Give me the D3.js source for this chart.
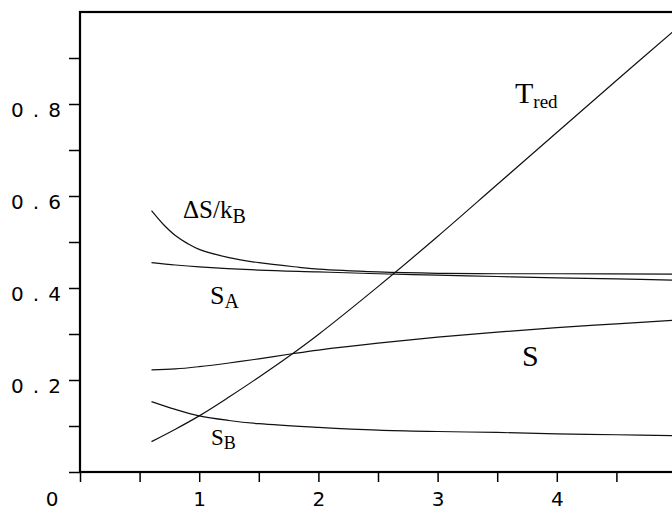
<!DOCTYPE html>
<html>
<head>
    <meta charset="utf-8">
    <style>
        body {
            margin: 0;
            background: white;
        }

        svg {
            display: block;
        }

        .tick text {
            font-family: 'DejaVu Sans', sans-serif;
            font-size: 20px;
            fill: black;
        }

        .lbl {
            font-family: 'Liberation Serif', 'Times New Roman', serif;
            fill: black;
        }
    </style>
</head>
<body>
    <svg width="672" height="512"></svg>

<script src="https://d3js.org/d3.v7.min.js"></script>
<script>
    // values
    let tredX = [0.6, 0.8, 1.0, 1.25, 1.5, 1.75, 2.0, 2.5, 3.0, 3.5, 4.0, 4.5, 5.0]
    let tredY = [0.066, 0.093, 0.122, 0.163, 0.206, 0.251, 0.299, 0.403, 0.512, 0.625, 0.738, 0.851, 0.963]

    let sX = [0.6, 0.8, 1.0, 1.25, 1.5, 1.78, 2.0, 2.5, 3.0, 3.5, 4.0, 4.5, 5.0]
    let sY = [0.222, 0.224, 0.229, 0.237, 0.246, 0.257, 0.265, 0.280, 0.293, 0.304, 0.314, 0.322, 0.330]

    let sbX = [0.6, 0.8, 1.0, 1.25, 1.5, 2.0, 2.5, 3.0, 3.5, 4.0, 4.5, 5.0]
    let sbY = [0.153, 0.136, 0.122, 0.112, 0.105, 0.097, 0.091, 0.088, 0.086, 0.083, 0.081, 0.079]

    let saX = [0.6, 0.8, 1.0, 1.5, 2.0, 2.5, 3.0, 3.5, 4.0, 4.5, 5.0]
    let saY = [0.455, 0.450, 0.446, 0.439, 0.435, 0.431, 0.428, 0.425, 0.422, 0.420, 0.417]

    let dsX = [0.6, 0.7, 0.8, 0.9, 1.0, 1.25, 1.5, 1.84, 2.0, 2.5, 3.0, 3.5, 4.0, 5.0]
    let dsY = [0.568, 0.538, 0.514, 0.497, 0.484, 0.466, 0.455, 0.445, 0.441, 0.435, 0.432, 0.431, 0.431, 0.430]

    let xTicks = [0, 0.5, 1, 1.5, 2, 2.5, 3, 3.5, 4, 4.5]
    let xLabels = [1, 2, 3, 4]
    let yTicks = [0, 0.1, 0.2, 0.3, 0.4, 0.5, 0.6, 0.7, 0.8, 0.9]
    let yLabels = [0.2, 0.4, 0.6, 0.8]

    let svg = d3.select("svg")

    let x = d3.scaleLinear().domain([0, 5]).range([80, 676])
    let y = d3.scaleLinear().domain([0, 1]).range([472, 12])

    // x axis
    let xAxis = svg.append("g")
        .attr("transform", "translate(0," + y(0) + ")")
        .call(d3.axisBottom(x)
            .tickValues(xTicks)
            .tickSize(10)
            .tickSizeOuter(0)
            .tickPadding(10)
            .tickFormat(d => xLabels.includes(d) ? d : ""))
    xAxis.select(".domain").remove()
    xAxis.selectAll("line").attr("stroke", "black").attr("stroke-width", 1.5)

    // y axis
    let yAxis = svg.append("g")
        .attr("transform", "translate(" + x(0) + ",0)")
        .call(d3.axisLeft(y)
            .tickValues(yTicks)
            .tickSize(11)
            .tickPadding(8)
            .tickSizeOuter(0)
            .tickFormat(d => yLabels.includes(d) ? d3.format(".1f")(d) : ""))
    yAxis.select(".domain").remove()
    yAxis.selectAll("line").attr("stroke", "black").attr("stroke-width", 1.5)
    yAxis.selectAll("text")
        .attr("dy", "0.62em")
        .filter(function () { return this.textContent != "" })
        .attr("textLength", 50)
        .attr("lengthAdjust", "spacing")

    // lone zero at the corner
    svg.append("text")
        .attr("x", 52)
        .attr("y", 506)
        .attr("text-anchor", "middle")
        .style("font-family", "'DejaVu Sans', sans-serif")
        .style("font-size", "20px")
        .text("0")

    // frame
    svg.append("rect")
        .attr("x", x(0))
        .attr("y", y(1))
        .attr("width", x(5) - x(0))
        .attr("height", y(0) - y(1))
        .attr("fill", "none")
        .attr("stroke", "black")
        .attr("stroke-width", 2.2)

    let line = d3.line()
        .x(d => x(d[0]))
        .y(d => y(d[1]))
        .curve(d3.curveCatmullRom.alpha(0.5))

    let series = [
        d3.zip(tredX, tredY),
        d3.zip(sX, sY),
        d3.zip(sbX, sbY),
        d3.zip(saX, saY),
        d3.zip(dsX, dsY)
    ]

    svg.append("g")
        .selectAll("path")
        .data(series)
        .join("path")
        .attr("d", line)
        .attr("fill", "none")
        .attr("stroke", "#111")
        .attr("stroke-width", 1.2)

    // curve labels
    function label(px, py, main, sub, size, subSize, subDy) {
        let t = svg.append("text")
            .attr("class", "lbl")
            .attr("x", px)
            .attr("y", py)
            .style("font-size", size + "px")
        t.append("tspan").text(main)
        if (sub) {
            t.append("tspan")
                .attr("dy", subDy)
                .style("font-size", subSize + "px")
                .text(sub)
        }
    }

    label(515, 103, "T", "red", 30, 19, 5)
    label(522, 366, "S", null, 30)
    label(183, 218, "\u0394S/k", "B", 25, 20, 5)
    label(210, 304, "S", "A", 26, 20, 4)
    label(211, 445, "S", "B", 23, 18, 4)
</script>
</body>
</html>
